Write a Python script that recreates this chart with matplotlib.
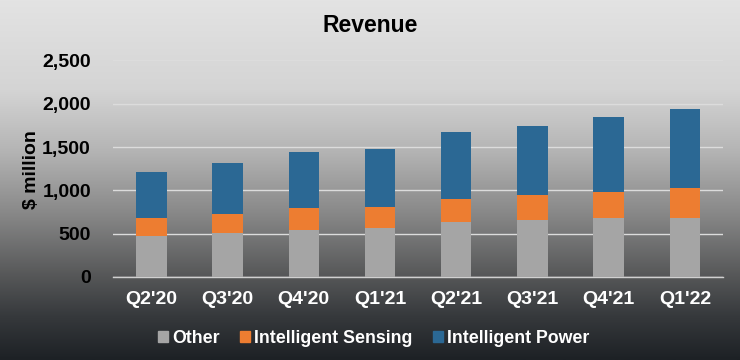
import numpy as np
import matplotlib.pyplot as plt
from matplotlib.colors import LinearSegmentedColormap
from matplotlib.patches import Patch

plt.rcParams['font.family'] = ['Liberation Sans', 'DejaVu Sans']
plt.rcParams['font.weight'] = 'bold'

# data ($ million)
quarters = ["Q2'20", "Q3'20", "Q4'20", "Q1'21", "Q2'21", "Q3'21", "Q4'21", "Q1'22"]
other = [477, 508, 543, 562, 632, 658, 685, 685]
sensing = [201, 219, 254, 250, 269, 289, 300, 339]
power = [534, 590, 648, 668, 769, 795, 861, 921]

c_other = '#A5A5A5'
c_sensing = '#ED7D31'
c_power = '#2B6894'

fig = plt.figure(figsize=(7.4, 3.6), dpi=100)

# gradient background, light grey at top to near black at bottom
bg = fig.add_axes([0, 0, 1, 1], zorder=-10)
cmap = LinearSegmentedColormap.from_list('bg', [
    (0.0, '#E3E3E3'), (0.25, '#D4D4D4'), (0.42, '#B4B4B4'),
    (0.6, '#868686'), (0.76, '#58595A'), (0.88, '#36393C'), (1.0, '#1D2125')])
grad = np.linspace(0, 1, 256).reshape(-1, 1)
bg.imshow(grad, aspect='auto', cmap=cmap, extent=[0, 1, 0, 1])
bg.axis('off')

ax = fig.add_axes([0.153, 0.2306, 0.824, 0.6014])
ax.patch.set_alpha(0)

x = np.arange(len(quarters))
w = 0.4
b1 = np.array(other)
b2 = b1 + np.array(sensing)
ax.bar(x, other, w, color=c_other, zorder=3, label='Other')
ax.bar(x, sensing, w, bottom=b1, color=c_sensing, zorder=3, label='Intelligent Sensing')
ax.bar(x, power, w, bottom=b2, color=c_power, zorder=3, label='Intelligent Power')

ax.set_xlim(-0.5, len(quarters) - 0.5)
ax.set_ylim(0, 2500)
ax.set_yticks(range(0, 2501, 500))
ax.set_yticklabels([f'{v:,}' for v in range(0, 2501, 500)], fontsize=14, fontweight='bold', color='black')
ax.set_xticks(x)
ax.set_xticklabels(quarters, fontsize=14, fontweight='bold', color='white')
ax.tick_params(length=0, axis='y', pad=16)
ax.tick_params(length=0, axis='x', pad=10)
ax.grid(axis='y', color='#DCDCDC', linewidth=1, zorder=0)
for s in ['top', 'right', 'left']:
    ax.spines[s].set_visible(False)
ax.spines['bottom'].set_color('#D0D0D0')
ax.spines['bottom'].set_linewidth(1)

fig.text(0.5, 0.93, 'Revenue', ha='center', va='center', fontsize=16.5, fontweight='bold', color='black')
fig.text(0.042, 0.53, '$ million', ha='center', va='center', rotation=90, fontsize=14, fontweight='bold', color='black')

handles = [Patch(color=c_other), Patch(color=c_sensing), Patch(color=c_power)]
leg = fig.legend(handles, ['Other', 'Intelligent Sensing', 'Intelligent Power'],
                 loc='center', bbox_to_anchor=(0.505, 0.06), ncol=3, frameon=False,
                 handlelength=0.55, handleheight=0.55, handletextpad=0.25, columnspacing=1.15,
                 prop={'size': 12.8, 'weight': 'bold'})
for t in leg.get_texts():
    t.set_color('white')

fig.savefig('out.png', dpi=100)
